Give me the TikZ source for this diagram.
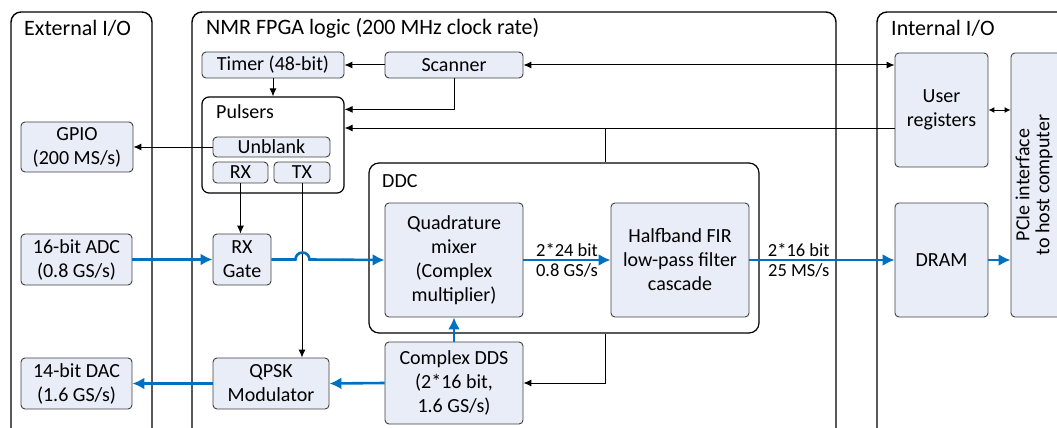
\documentclass[tikz,border=0pt]{standalone}
\usepackage{fontspec}
\setmainfont{Carlito}
\usetikzlibrary{arrows.meta}
\definecolor{boxfill}{HTML}{E8EDF7}
\definecolor{boxline}{HTML}{404040}
\definecolor{dataflow}{HTML}{0070C0}
\tikzset{
  area/.style={draw, line width=1.4pt, rounded corners=10pt},
  block/.style={draw=boxline, fill=boxfill, line width=0.9pt, rounded corners=4pt, align=center, inner sep=0pt},
  ctrl/.style={line width=1pt, -{Latex[length=8pt,width=7pt]}},
  data/.style={dataflow, line width=2.6pt, -{Latex[length=12pt,width=12pt]}},
  rate/.style={text=black, inner sep=2pt, font=\fontsize{18.5}{22}\selectfont},
  title/.style={anchor=west, inner sep=0pt},
  bigtitle/.style={title, font=\fontsize{22}{26}\selectfont}
}
\begin{document}
\begin{tikzpicture}[x=1pt, y=-1pt, font=\fontsize{20}{24}\selectfont]
\useasboundingbox (0,0) rectangle (1057,428);
\clip (0,0) rectangle (1057,428);
\draw[area] (11,12) rectangle (152,450);
\draw[area] (192,12) rectangle (836,450);
\draw[area] (877,12) rectangle (1080,450);
\node[bigtitle] at (24,28) {External I/O};
\node[bigtitle] at (206,28) {NMR FPGA logic (200 MHz clock rate)};
\node[bigtitle] at (891,28) {Internal I/O};
\node[block, minimum width=142, minimum height=26] (timer) at (273,65) {Timer (48-bit)};
\node[block, minimum width=138, minimum height=26] (scanner) at (454,65) {Scanner};
\node[area, line width=1.2pt, rounded corners=7pt, minimum width=142, minimum height=96] (pulsers) at (273,145) {};
\node[title] at (216,112) {Pulsers};
\node[block, minimum width=117, minimum height=20] (unblank) at (271.5,147) {Unblank};
\node[block, minimum width=55, minimum height=21] (rx) at (240.5,172.5) {RX};
\node[block, minimum width=56, minimum height=21] (tx) at (302,172.5) {TX};
\node[block, minimum width=112, minimum height=50] (gpio) at (77,147) {GPIO\\(200 MS/s)};
\node[block, minimum width=111, minimum height=51] (adc) at (76.5,259.5) {16-bit ADC\\(0.8 GS/s)};
\node[block, minimum width=111, minimum height=51] (dac) at (76.5,383.5) {14-bit DAC\\(1.6 GS/s)};
\node[block, minimum width=58, minimum height=51] (rxgate) at (242,259.5) {RX\\Gate};
\node[block, minimum width=116, minimum height=51] (qpsk) at (271,383.5) {QPSK\\Modulator};
\node[area, line width=1.2pt, minimum width=390, minimum height=170] (ddc) at (564,248) {};
\node[title] at (382,181) {DDC};
\node[block, minimum width=138, minimum height=114] (mixer) at (454,260) {Quadrature\\mixer\\(Complex\\multiplier)};
\node[block, minimum width=138, minimum height=114] (fir) at (680,260) {Halfband FIR\\low-pass filter\\cascade};
\node[block, minimum width=138, minimum height=82] (dds) at (454,383) {Complex DDS\\(2*16 bit,\\1.6 GS/s)};
\node[block, minimum width=93, minimum height=114] (userreg) at (941.5,110) {User\\registers};
\node[block, minimum width=93, minimum height=114] (dram) at (941.5,260) {DRAM};
\node[block, rotate=90, minimum width=264, minimum height=52, text depth=9pt, font=\fontsize{20}{20}\selectfont] (pcie) at (1037,185) {PCIe interface\\to host computer};
\coordinate (tap) at (605,128);
\draw[ctrl] (scanner.west) -- (timer.east);
\draw[ctrl, {Latex[length=8pt,width=7pt]}-{Latex[length=8pt,width=7pt]}] (scanner.east) -- (scanner.east -| userreg.west);
\draw[ctrl] (timer.south) -- (pulsers.north);
\draw[ctrl] (scanner.south) |- ([yshift=-13pt]pulsers.north east);
\draw[ctrl] (tap -| userreg.west) -- (tap -| pulsers.east);
\draw[line width=1pt] (tap) -- (tap |- ddc.north);
\draw[ctrl] (tap |- ddc.south) |- (dds.east);
\draw[ctrl, {Latex[length=6pt,width=6pt]}-{Latex[length=6pt,width=6pt]}] (userreg.east) -- (userreg.east -| pcie.north);
\draw[ctrl] (unblank.west) -- (gpio.east);
\draw[ctrl] (rx.south) -- (rx.south |- rxgate.north);
\draw[ctrl] (tx.south) -- (tx.south |- qpsk.north);
\draw[data] (adc.east) -- (rxgate.west);
\draw[data] (rxgate.east) -- ++(24,0) arc[start angle=180, end angle=360, radius=7] -- (mixer.west);
\draw[data] (mixer.east) -- node[above, rate] {2*24 bit} node[below, rate] {0.8 GS/s} (fir.west);
\draw[data] (fir.east) -- node[pos=0.34, above, rate] {2*16 bit} node[pos=0.34, below, rate] {25 MS/s} (dram.west);
\draw[data] (dram.east) -- (dram.east -| pcie.north);
\draw[data] (dds.north) -- (mixer.south);
\draw[data] (dds.west) -- (qpsk.east);
\draw[data] (qpsk.west) -- (dac.east);
\end{tikzpicture}
\end{document}
